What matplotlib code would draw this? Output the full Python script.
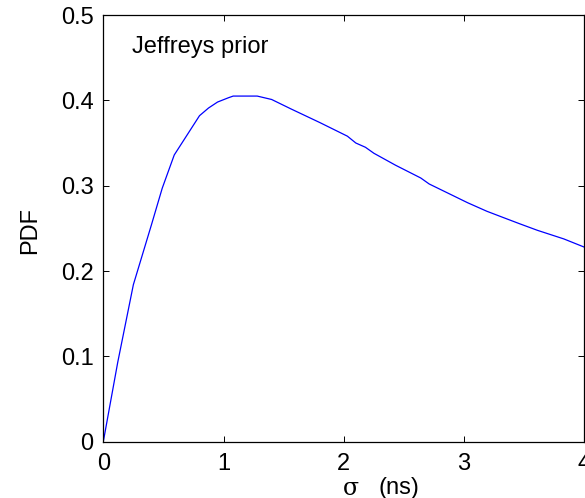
import matplotlib
matplotlib.use("Agg")
import matplotlib.pyplot as plt

# Posterior density of sigma under a Jeffreys prior
sigma_ns = [0.0, 0.12, 0.25, 0.40, 0.49, 0.59, 0.80, 0.875, 0.95, 1.04, 1.08,
            1.28, 1.40, 1.56, 1.80, 2.03, 2.10, 2.18, 2.25, 2.43, 2.64, 2.71,
            2.87, 3.03, 3.19, 3.32, 3.46, 3.61, 3.83, 4.0]
pdf = [0.0, 0.093, 0.184, 0.254, 0.297, 0.336, 0.382, 0.391, 0.398, 0.403, 0.405,
       0.405, 0.401, 0.390, 0.374, 0.358, 0.350, 0.345, 0.338, 0.324, 0.309, 0.302,
       0.291, 0.280, 0.270, 0.263, 0.2555, 0.2477, 0.2376, 0.228]

x_ticks = [0, 1, 2, 3, 4]
y_ticks = [0, 0.1, 0.2, 0.3, 0.4, 0.5]
y_tick_labels = ["0", "0.1", "0.2", "0.3", "0.4", "0.5"]

plt.rcParams["font.family"] = ["Liberation Sans", "DejaVu Sans"]
FS = 17

fig = plt.figure(figsize=(5.85, 4.98), dpi=100)
ax = fig.add_axes([103.3 / 585, 1 - 441.7 / 498, (584.3 - 103.3) / 585, (441.7 - 15) / 498])

ax.plot(sigma_ns, pdf, color="#0000ff", lw=0.9)

ax.set_xlim(0, 4)
ax.set_ylim(0, 0.5)
ax.set_xticks(x_ticks)
ax.set_xticklabels([str(t) for t in x_ticks])
ax.set_yticks(y_ticks)
ax.set_yticklabels(y_tick_labels)
ax.tick_params(direction="in", length=4, width=0.7, top=True, right=True,
               labelsize=FS, colors="black")
ax.tick_params(axis="x", pad=8)
ax.tick_params(axis="y", pad=7)
for sp in ax.spines.values():
    sp.set_linewidth(0.9)
    sp.set_color("black")

ax.text(0.237, 0.463, "Jeffreys prior", fontsize=FS, ha="left", va="center")

fig.text(30.5 / 585, 1 - 230.5 / 498, "PDF", fontsize=FS, rotation=90,
         ha="center", va="center")
fig.text(343 / 585, 1 - 488 / 498, "\u03c3", fontsize=FS, ha="left", va="center",
         family=["DejaVu Serif", "DejaVu Sans"])
fig.text(378 / 585, 1 - 488 / 498, "(ns)", fontsize=FS, ha="left", va="center")

fig.savefig("out.png", dpi=100)
